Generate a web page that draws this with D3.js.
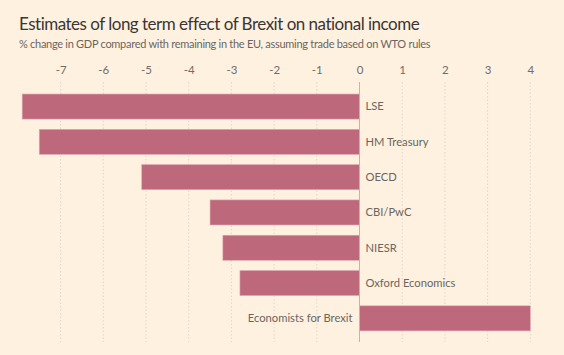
<!DOCTYPE html>
<html><head><meta charset="utf-8">
<script src="https://cdn.jsdelivr.net/npm/d3@7"></script>
<style>
html,body{margin:0;padding:0;background:#fff1e0;}
svg{display:block;}
text{font-family:Lato, "Open Sans", sans-serif;}
</style></head>
<body>
<svg id="chart" width="564" height="355"></svg>
<script>
const categories = ["LSE","HM Treasury","OECD","CBI/PwC","NIESR","Oxford Economics","Economists for Brexit"];
const values = [-7.9,-7.5,-5.1,-3.5,-3.2,-2.8,4.0];
const tickValues = [-7,-6,-5,-4,-3,-2,-1,0,1,2,3,4];
const title = "Estimates of long term effect of Brexit on national income";
const subtitle = "% change in GDP compared with remaining in the EU, assuming trade based on WTO rules";

const svg = d3.select("#chart");
svg.append("rect").attr("width",564).attr("height",355).attr("fill","#fff1e0");

const x = d3.scaleLinear().domain([0,4]).range([359.5,530.3]);
const y = d3.scaleBand().domain(categories).range([88.9,336]).paddingInner(0.29).paddingOuter(0.145);

svg.append("text").attr("x",19).attr("y",30).attr("font-size",17).attr("letter-spacing",-0.5).attr("fill","#3a3633").text(title);
svg.append("text").attr("x",19).attr("y",48).attr("font-size",11).attr("letter-spacing",-0.28).attr("fill","#6b6560").text(subtitle);

// grid
svg.append("g").selectAll("line").data(tickValues.filter(d=>d!==0)).join("line")
  .attr("x1",d=>x(d)).attr("x2",d=>x(d)).attr("y1",82).attr("y2",342)
  .attr("stroke","#e0d6cc").attr("stroke-width",1).attr("stroke-dasharray","1.5,2");

const axis = d3.axisTop(x).tickValues(tickValues).tickSize(0).tickPadding(0).tickFormat(d=>String(d));
const ax = svg.append("g").attr("transform","translate(0,74)").call(axis);
ax.select(".domain").remove();
ax.selectAll("text").attr("font-size",11.5).attr("fill","#726c67").attr("font-family","Lato").attr("dy",0);

svg.append("g").selectAll("rect").data(categories).join("rect")
  .attr("x",(d,i)=>x(Math.min(0,values[i])))
  .attr("width",(d,i)=>Math.abs(x(values[i])-x(0)))
  .attr("y",d=>y(d)).attr("height",y.bandwidth())
  .attr("fill","#bd687b").attr("stroke","#e0aab5").attr("stroke-width",0.6);

svg.append("line").attr("x1",x(0)).attr("x2",x(0)).attr("y1",82).attr("y2",342)
  .attr("stroke","#bfb6ad").attr("stroke-width",1);

svg.append("g").selectAll("text").data(categories).join("text")
  .attr("x",(d,i)=>values[i]<0? x(0)+6 : x(0)-7)
  .attr("text-anchor",(d,i)=>values[i]<0?"start":"end")
  .attr("y",d=>y(d)+y.bandwidth()/2).attr("dy","0.35em")
  .attr("font-size",11.2).attr("fill","#6b6560").text(d=>d);
</script>
</body></html>
